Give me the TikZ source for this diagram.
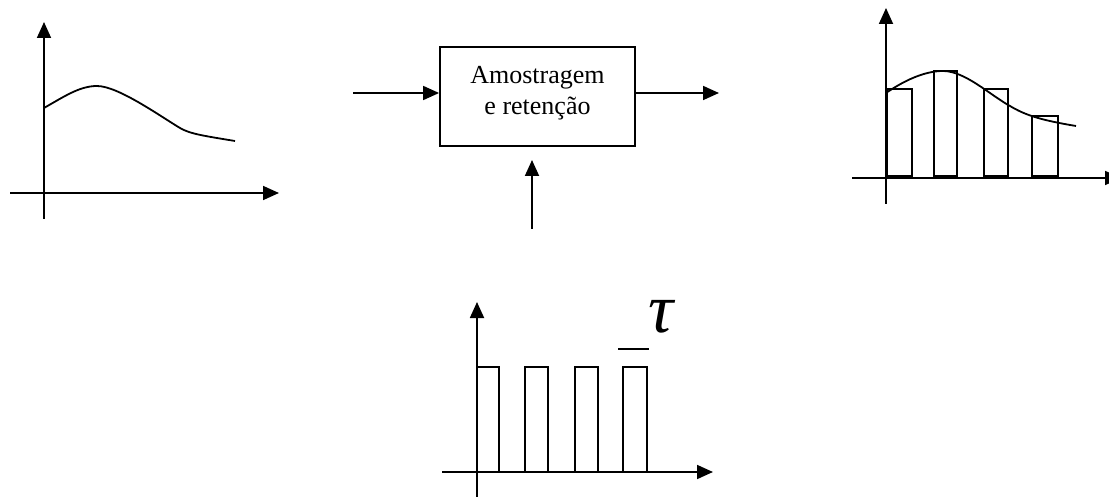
\documentclass[tikz,border=0pt]{standalone}
\usepackage{fontspec}
\setmainfont{Liberation Serif}
\usetikzlibrary{arrows.meta}
\begin{document}
\begin{tikzpicture}[x=1pt,y=-1pt, line width=1.8pt,
  axis/.style={-{Triangle[length=16pt,width=14pt]}},
  sig/.style={line width=1.8pt, line join=round},
  pulse/.style={line width=1.7pt}]
\useasboundingbox (0,0) rectangle (1109,497);

% ---- left graph: input signal
\coordinate (lvb) at (44,219); \coordinate (lvt) at (44,22);
\coordinate (lhl) at (10,193); \coordinate (lhr) at (279,193);
\draw[axis] (lvb) -- (lvt);
\draw[axis] (lhl) -- (lhr);
\draw[sig] (44,108) .. controls (65,96) and (80,86) .. (97,86)
  .. controls (118,86) and (160,116) .. (180,128)
  .. controls (190,134) and (205,136) .. (235,141);

% ---- block
\node[draw, minimum width=195pt, minimum height=99pt, inner sep=0pt] (sh) at (537.5,96.5) {};
\node[align=center, font=\fontsize{26}{31}\selectfont, inner sep=0pt] (lbl) at (537.5,93) {Amostragem\\e retenção};
\coordinate (in) at (353,93);
\coordinate (out) at (719,93);
\coordinate (clk) at (532,229);
\coordinate (clkt) at (532,160);
\draw[axis] (in) -- (in -| sh.west);
\draw[axis] (out -| sh.east) -- (out);
\draw[axis] (clk) -- (clkt);

% ---- right graph: sampled and held
\coordinate (rvb) at (886,204); \coordinate (rvt) at (886,8);
\coordinate (rhl) at (852,178); \coordinate (rhr) at (1121,178);
\draw[axis] (rvb) -- (rvt);
\draw[axis] (rhl) -- (rhr);
\draw[pulse] (887,176) rectangle (912,89);
\draw[pulse] (934,176) rectangle (957,71);
\draw[pulse] (984,176) rectangle (1008,89);
\draw[pulse] (1032,176) rectangle (1058,116);
\draw[sig] (886,93) .. controls (905,80) and (925,71) .. (943,71)
  .. controls (965,71) and (990,95) .. (1010,106)
  .. controls (1025,115) and (1040,120) .. (1076,126);

% ---- bottom graph: sampling pulses
\coordinate (bvb) at (477,505); \coordinate (bvt) at (477,302);
\coordinate (bhl) at (442,472); \coordinate (bhr) at (713,472);
\draw[axis] (bvb) -- (bvt);
\draw[axis] (bhl) -- (bhr);
\draw[pulse] (477,472) rectangle (499,367);
\draw[pulse] (525,472) rectangle (548,367);
\draw[pulse] (575,472) rectangle (598,367);
\draw[pulse] (623,472) rectangle (647,367);
\draw[line width=1.5pt] (618,349) -- (649,349);
\node[anchor=base, inner sep=0pt, font=\fontsize{70}{70}\selectfont\itshape] (tau) at (661,332) {τ};
\end{tikzpicture}
\end{document}
